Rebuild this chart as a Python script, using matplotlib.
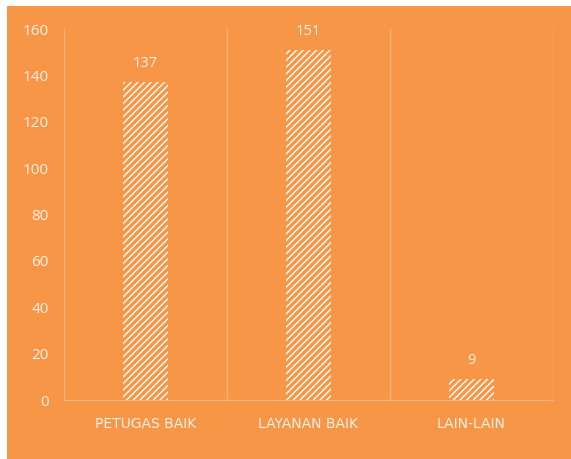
import matplotlib
matplotlib.use("Agg")
import matplotlib.pyplot as plt
from matplotlib.patches import Rectangle

categories = ["PETUGAS BAIK", "LAYANAN BAIK", "LAIN-LAIN"]
values = [137, 151, 9]
yticks = [0, 20, 40, 60, 80, 100, 120, 140, 160]

ORANGE = "#F79646"
GRID = "#F9B27F"
TXT = "#FDF0E6"

plt.rcParams['hatch.linewidth'] = 1.0
plt.rcParams['font.family'] = ['Open Sans', 'DejaVu Sans']

fig = plt.figure(figsize=(5.71, 4.59), dpi=100)
fig.patch.set_facecolor("white")
fig.patches.append(Rectangle((7/571, 0), 1, 1 - 6/459, transform=fig.transFigure,
                             facecolor=ORANGE, edgecolor="none", zorder=-10))

ax = fig.add_axes([64/571, 1 - 400/459, (553 - 64)/571, (400 - 29)/459])
ax.set_facecolor("none")
x = range(len(categories))
bars = ax.bar(x, values, width=0.27, color=ORANGE, edgecolor="white",
              linewidth=0, hatch="/////", zorder=3)
for xi, v in zip(x, values):
    ax.annotate(str(v), (xi, v), xytext=(0, 8), textcoords="offset points",
                ha="center", va="bottom", color=TXT, fontsize=10.5)

ax.set_xlim(-0.5, 2.5)
ax.set_ylim(0, 160)
ax.set_yticks(yticks)
ax.set_yticklabels([str(t) for t in yticks], color=TXT, fontsize=11)
ax.set_xticks(list(x))
ax.set_xticklabels(categories, color=TXT, fontsize=10,
                   family=['DejaVu Sans'])
ax.tick_params(axis='both', length=0)
ax.tick_params(axis='y', pad=11)
ax.tick_params(axis='x', pad=12)
for b in [0.5, 1.5, 2.5]:
    ax.axvline(b, color=GRID, linewidth=1, zorder=1)
for s in ["top", "right"]:
    ax.spines[s].set_visible(False)
ax.spines["left"].set_color(GRID)
ax.spines["bottom"].set_color(GRID)

fig.savefig("out.png", dpi=100)
